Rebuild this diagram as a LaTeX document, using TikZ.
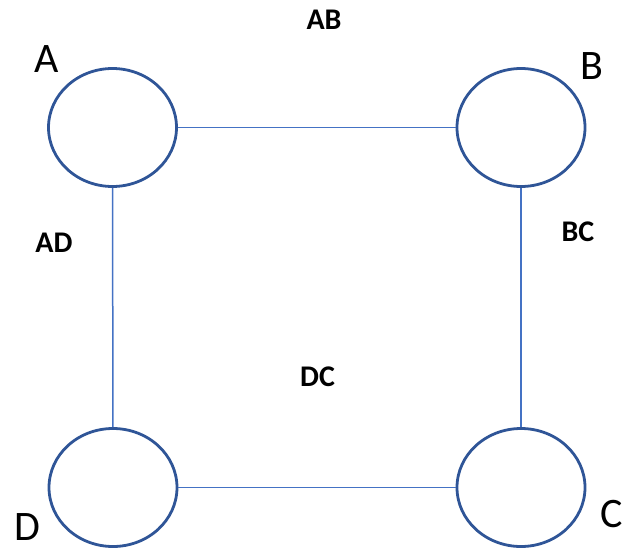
\documentclass[tikz,border=0pt]{standalone}
\usepackage{fontspec}
\setmainfont{Carlito}
\usetikzlibrary{shapes.geometric}
\begin{document}
\begin{tikzpicture}[x=1pt,y=-1pt,
  vertex/.style={draw=ringblue,line width=2.8pt,ellipse,minimum width=128pt,minimum height=118pt,inner sep=0pt},
  edge/.style={draw=edgeblue,line width=1.5pt},
  corner/.style={font=\fontsize{42}{42}\selectfont,inner sep=0pt},
  edgelabel/.style={font=\fontsize{30}{30}\selectfont\bfseries,inner sep=0pt}]
\definecolor{ringblue}{HTML}{2F5597}
\definecolor{edgeblue}{HTML}{4472C4}
\useasboundingbox (0,0) rectangle (623,552);
\node[vertex] (a) at (112.5,127.5) {};
\node[vertex] (b) at (521,127.5) {};
\node[vertex] (d) at (113,487.5) {};
\node[vertex] (c) at (521,487.5) {};
\draw[edge] (a) -- (b);
\draw[edge] (a) -- (d);
\draw[edge] (b) -- (c);
\draw[edge] (d) -- (c);
\node[corner] (la) at (47,59) {A};
\node[corner] (lb) at (592,66) {B};
\node[corner] (ld) at (27,527) {D};
\node[corner] (lc) at (612,514) {C};
\node[edgelabel] (lab) at (324,20) {AB};
\node[edgelabel] (lad) at (54,242.5) {AD};
\node[edgelabel] (lbc) at (578,232) {BC};
\node[edgelabel] (ldc) at (317.5,377) {DC};
\end{tikzpicture}
\end{document}
